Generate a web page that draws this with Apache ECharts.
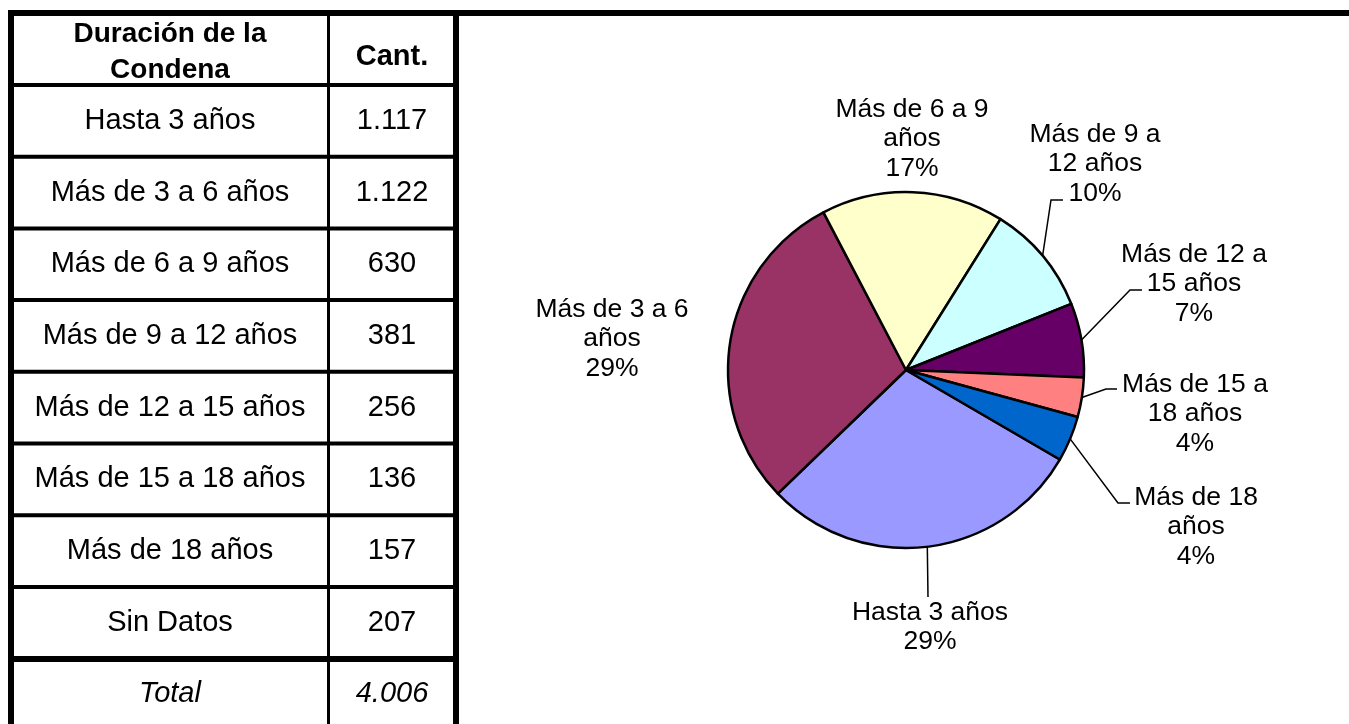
<!DOCTYPE html>
<html lang="es">
<head>
<meta charset="UTF-8">
<title>Duración de la condena</title>
<script src="https://cdn.jsdelivr.net/npm/echarts@6/dist/echarts.min.js"></script>
<style>
  html, body { margin: 0; padding: 0; background: #fff; }
  #main { width: 1349px; height: 724px; }
</style>
</head>
<body>
<div id="main"></div>
<script>
    // datos de la tabla
    var categorias = ['Hasta 3 años', 'Más de 3 a 6 años', 'Más de 6 a 9 años', 'Más de 9 a 12 años',
        'Más de 12 a 15 años', 'Más de 15 a 18 años', 'Más de 18 años'];
    var cantidades = [1117, 1122, 630, 381, 256, 136, 157];
    var sinDatosNombre = 'Sin Datos';
    var sinDatos = 207;

    // textos de las etiquetas de la torta (cortados como en el original)
    var etiquetasTorta = ['Hasta 3 años', 'Más de 3 a 6\naños', 'Más de 6 a 9\naños', 'Más de 9 a\n12 años',
        'Más de 12 a\n15 años', 'Más de 15 a\n18 años', 'Más de 18\naños'];
    var colores = ['#9999FF', '#993366', '#FFFFCC', '#CCFFFF', '#660066', '#FF8080', '#0066CC'];

    // ubicación de cada etiqueta y quiebre de su línea guía
    var ubicEtiquetas = [
        {x: 930, y: 627, linea: [[928, 597], [928, 597]]},
        {x: 612, y: 339},
        {x: 912, y: 139},
        {x: 1095, y: 164, linea: [[1051, 200], [1063, 200]]},
        {x: 1194, y: 284, linea: [[1130, 290], [1142, 290]]},
        {x: 1195, y: 414, linea: [[1106, 389], [1117, 389]]},
        {x: 1196, y: 527, linea: [[1118, 503], [1130, 503]]}
    ];

    var fuente = '"Liberation Sans", Arial, sans-serif';

    function miles(n) {
        return String(n).replace(/\B(?=(\d{3})+(?!\d))/g, '.');
    }

    // ---- tabla dibujada con graphic ----
    var filas = categorias.concat([sinDatosNombre]);
    var valoresFilas = cantidades.concat([sinDatos]);
    var total = valoresFilas.reduce(function (a, b) { return a + b; }, 0);

    var grafico = [];
    function barra(x, y, w, h) {
        grafico.push({type: 'rect', shape: {x: x, y: y, width: w, height: h}, style: {fill: '#000'}, silent: true});
    }
    function texto(t, x, y, extra) {
        var st = {text: t, x: x, y: y, fill: '#000', fontSize: 29, fontFamily: fuente,
            align: 'center', verticalAlign: 'middle'};
        for (var k in extra) st[k] = extra[k];
        grafico.push({type: 'text', style: st, silent: true});
    }

    var col1 = 170, col2 = 392, altoFila = 71.7;
    barra(8, 10, 1341, 6);      // borde superior
    barra(8, 10, 6, 714);       // borde izquierdo
    barra(453, 10, 6, 714);     // borde derecho
    barra(327, 10, 3, 714);     // división de columnas
    barra(8, 83, 451, 4);       // fin encabezado
    for (var i = 1; i < filas.length; i++) {
        barra(8, 83 + altoFila * i, 451, 4);
    }
    barra(8, 656, 451, 6);      // antes del total

    texto('Duración de la\nCondena', col1, 52, {fontWeight: 'bold', fontSize: 28, lineHeight: 36});
    texto('Cant.', col2, 57, {fontWeight: 'bold', fontSize: 29});
    filas.forEach(function (f, i) {
        var y = 85 + altoFila * (i + 0.5);
        texto(f, col1, y);
        texto(miles(valoresFilas[i]), col2, y);
    });
    texto('Total', col1, 694, {fontStyle: 'italic'});
    texto(miles(total), col2, 694, {fontStyle: 'italic'});

    // ---- torta ----
    var datos = categorias.map(function (c, i) {
        return {
            name: c,
            value: cantidades[i],
            itemStyle: {color: colores[i]},
            labelLine: {show: !!ubicEtiquetas[i].linea}
        };
    });

    var myChart = echarts.init(document.getElementById('main'));
    myChart.setOption({
        animation: false,
        graphic: grafico,
        series: [{
            type: 'pie',
            center: [906, 370],
            radius: 178,
            startAngle: -30.2,
            clockwise: true,
            percentPrecision: 0,
            avoidLabelOverlap: false,
            emphasis: {disabled: true},
            itemStyle: {borderColor: '#000', borderWidth: 2.5},
            label: {
                position: 'outside',
                color: '#000',
                fontSize: 26.5,
                lineHeight: 29.5,
                fontFamily: fuente,
                align: 'center',
                formatter: function (p) {
                    return etiquetasTorta[p.dataIndex] + '\n' + p.percent + '%';
                }
            },
            labelLine: {lineStyle: {color: '#000', width: 1.5}},
            labelLayout: function (p) {
                var u = ubicEtiquetas[p.dataIndex];
                var res = {x: u.x, y: u.y, align: 'center', verticalAlign: 'middle'};
                if (u.linea && p.labelLinePoints) {
                    res.labelLinePoints = [p.labelLinePoints[0]].concat(u.linea);
                }
                return res;
            },
            data: datos
        }]
    });
</script>
</body>
</html>
